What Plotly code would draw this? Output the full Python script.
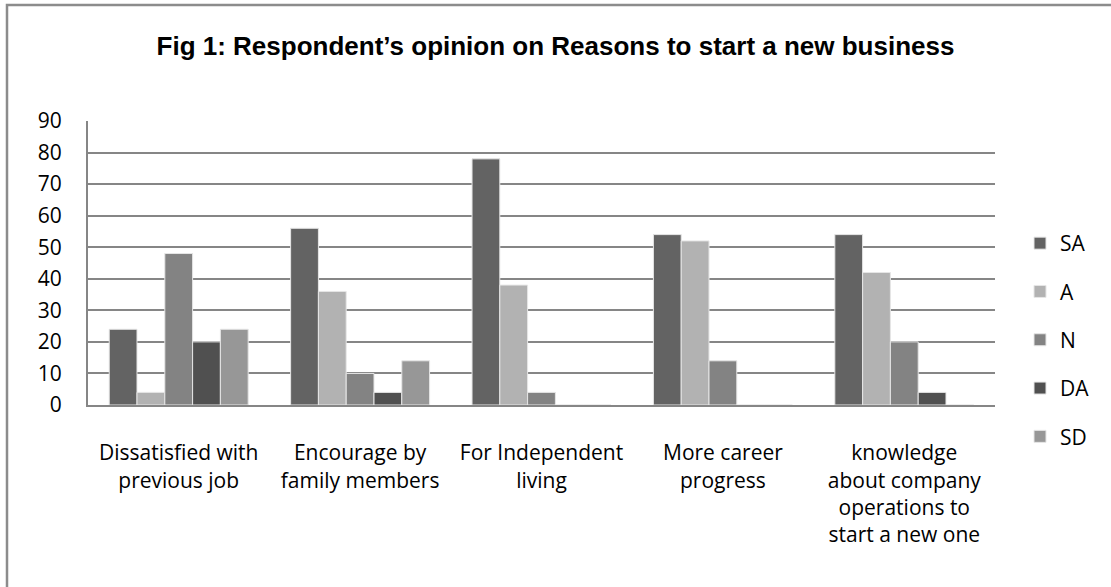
import plotly.graph_objects as go

# Survey responses per reason
categories = [
    "Dissatisfied with<br>previous job",
    "Encourage by<br>family members",
    "For Independent<br>living",
    "More career<br>progress",
    "knowledge<br>about company<br>operations to<br>start a new one",
]
series_names = ["SA", "A", "N", "DA", "SD"]
sa = [24, 56, 78, 54, 54]
a = [4, 36, 38, 52, 42]
n = [48, 10, 4, 14, 20]
da = [20, 4, 0, 0, 4]
sd = [24, 14, 0, 0, 0]
y_ticks = [0, 10, 20, 30, 40, 50, 60, 70, 80, 90]

series_values = [sa, a, n, da, sd]
colors = ["#636363", "#b2b2b2", "#838383", "#505050", "#979797"]

W, H = 1111, 587
L, R, T, B = 88, 116, 121, 182
pw, ph = W - L - R, H - T - B

def px_x(p):
    return (p - L) / pw

def px_y(p):
    return (H - B - p) / ph

fig = go.Figure()
x_idx = list(range(len(categories)))
for name, vals, col in zip(series_names, series_values, colors):
    fig.add_trace(go.Bar(
        x=x_idx, y=vals, name=name, legendgroup=name,
        marker=dict(color=col, line=dict(color="#e6e6e6", width=1)),
    ))

font_body = "Open Sans, Calibri, sans-serif"

fig.update_layout(
    width=W, height=H,
    margin=dict(l=L, r=R, t=T, b=B),
    paper_bgcolor="white", plot_bgcolor="white",
    barmode="group", bargap=0.234, bargroupgap=0,
    title=dict(
        text="<b>Fig 1: Respondent’s opinion on Reasons to start a new business</b>",
        x=0.5, xanchor="center", y=1 - 46 / H, yanchor="middle",
        font=dict(family="Liberation Sans, Arial, sans-serif", size=26, color="#000000"),
    ),
    xaxis=dict(
        tickmode="array", tickvals=x_idx, ticktext=categories,
        range=[-0.5, len(categories) - 0.5],
        showline=True, linecolor="#868686", linewidth=2,
        ticks="", showgrid=False, zeroline=False,
        tickfont=dict(family=font_body, size=21, color="#000000"),
        ticklabelstandoff=28,
    ),
    yaxis=dict(
        tickmode="array", tickvals=y_ticks, range=[0, 90],
        showline=True, linecolor="#868686", linewidth=2,
        showgrid=True, gridcolor="#868686", gridwidth=1.5,
        zeroline=False, ticks="",
        tickfont=dict(family=font_body, size=21, color="#000000"),
        ticklabelstandoff=20,
    ),
    legend=dict(
        x=px_x(1020), y=px_y(223), xanchor="left", yanchor="top",
        font=dict(family=font_body, size=21, color="#000000"),
        tracegroupgap=18, itemwidth=30, bgcolor="rgba(0,0,0,0)",
    ),
    showlegend=True,
    shapes=[
        dict(
            type="path", xref="paper", yref="paper",
            path=f"M {px_x(7)} {px_y(H + 5)} L {px_x(7)} {px_y(5)} L {px_x(W + 5)} {px_y(5)}",
            line=dict(color="#8c8c8c", width=2.5),
        )
    ],
)

fig.write_html("out.html")
